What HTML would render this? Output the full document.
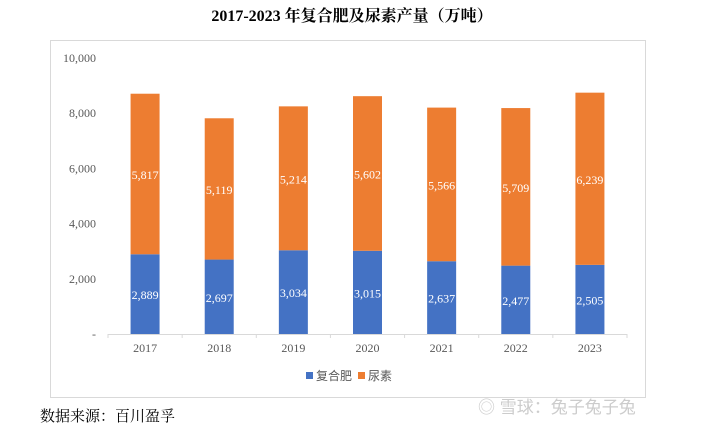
<!DOCTYPE html>
<html><head><meta charset="utf-8"><style>
body{margin:0;width:705px;height:431px;background:#fff;overflow:hidden;font-family:"Liberation Serif","Noto Serif CJK SC",serif;}
</style></head><body>
<svg width="705" height="431" xmlns="http://www.w3.org/2000/svg">
<text x="352" y="21" text-anchor="middle" font-size="16" font-weight="bold" fill="#000">2017-2023 年复合肥及尿素产量（万吨）</text>
<rect x="50.5" y="40.5" width="595" height="357" fill="none" stroke="#d9d9d9"/>
<g id="yaxis"></g><g id="bars"></g><g id="xaxis"></g>
<rect x="306" y="372" width="7" height="7" fill="#4472c4"/>
<text x="316" y="380" font-size="12" fill="#595959" font-family="Liberation Sans,Noto Sans CJK SC,sans-serif">复合肥</text>
<rect x="358" y="372" width="7" height="7" fill="#ed7d31"/>
<text x="368" y="380" font-size="12" fill="#595959" font-family="Liberation Sans,Noto Sans CJK SC,sans-serif">尿素</text>
<text x="40" y="421" font-size="15" fill="#000" font-family="Liberation Serif,Noto Serif CJK SC,serif">数据来源：百川盈孚</text>
<text x="478" y="413" font-size="17" fill="#ccc" font-family="Liberation Sans,Noto Sans CJK SC,sans-serif">◎ 雪球：兔子兔子兔</text>
</svg>
<script>
const categories=["2017","2018","2019","2020","2021","2022","2023"];
const compound=[2889,2697,3034,3015,2637,2477,2505];
const urea=[5817,5119,5214,5602,5566,5709,6239];
const yTicks=[0,2000,4000,6000,8000,10000];
const yTickLabels=["-","2,000","4,000","6,000","8,000","10,000"];
const NS="http://www.w3.org/2000/svg";
const x0=108,x1=627,y0=334,ymax=10000,ytop=58;
const bw=(x1-x0)/categories.length, barW=29;
const y=v=>y0-(v/ymax)*(y0-ytop);
const xc=i=>x0+bw*(i+0.5);
function el(tag,attrs,parent,txt){const e=document.createElementNS(NS,tag);for(const k in attrs)e.setAttribute(k,attrs[k]);if(txt!==undefined)e.textContent=txt;parent.appendChild(e);return e;}
const fmt=v=>v.toLocaleString("en-US");
const ya=document.getElementById("yaxis");
yTicks.forEach((t,i)=>{const e=el("text",{x:96,y:y(t)+4,"text-anchor":"end","font-size":12,fill:"#595959"},ya,yTickLabels[i]);

});
const bg=document.getElementById("bars");
categories.forEach((c,i)=>{
 const bx=xc(i)-barW/2;
 const r1=el("rect",{x:bx,y:y(compound[i]),width:barW,height:y0-y(compound[i]),fill:"#4472c4"},bg);
 
 
 const r2=el("rect",{x:bx,y:y(compound[i]+urea[i]),width:barW,height:y(compound[i])-y(compound[i]+urea[i]),fill:"#ed7d31"},bg);
 
 
 const l1=el("text",{x:xc(i),y:(y0+y(compound[i]))/2+5,"text-anchor":"middle","font-size":12,fill:"#fff"},bg,fmt(compound[i]));
 
 
 const l2=el("text",{x:xc(i),y:(y(compound[i])+y(compound[i]+urea[i]))/2+5,"text-anchor":"middle","font-size":12,fill:"#fff"},bg,fmt(urea[i]));
 
 
});
const xa=document.getElementById("xaxis");
const ax=el("line",{x1:x0,y1:y0+0.5,x2:x1,y2:y0+0.5,stroke:"#d9d9d9"},xa);


for(let i=0;i<=categories.length;i++){el("line",{x1:x0+bw*i,y1:y0,x2:x0+bw*i,y2:y0+4,stroke:"#d9d9d9"},xa);}
categories.forEach((c,i)=>{const t=el("text",{x:xc(i),y:352,"text-anchor":"middle","font-size":12,fill:"#595959"},xa,c);

});
</script>
</body></html>
